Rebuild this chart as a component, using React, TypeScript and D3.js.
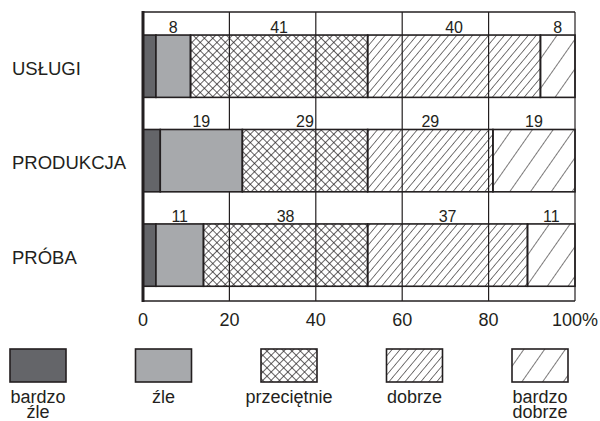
import React from 'react';
import * as d3 from 'd3';

const categories = ['USŁUGI', 'PRODUKCJA', 'PRÓBA'];
const levels = ['bardzo źle', 'źle', 'przeciętnie', 'dobrze', 'bardzo dobrze'];
const bardzoZle = [3, 4, 3];
const zle = [8, 19, 11];
const przecietnie = [41, 29, 38];
const dobrze = [40, 29, 37];
const bardzoDobrze = [8, 19, 11];
const xTicks = [0, 20, 40, 60, 80, 100];
const xTickLabels = ['0', '20', '40', '60', '80', '100%'];
const legendLines = [['bardzo', 'źle'], ['źle'], ['przeciętnie'], ['dobrze'], ['bardzo', 'dobrze']];

const W = 600;
const H = 421;
const FONT = '"Liberation Sans", Arial, Helvetica, sans-serif';
const INK = '#231f20';

const fills = ['#646569', '#a7a9ac', 'url(#cross)', 'url(#hatch)', 'url(#hatchWide)'];

const App: React.FC = () => {
  const rows = categories.map((c, i) => ({
    cat: c,
    [levels[0]]: bardzoZle[i],
    [levels[1]]: zle[i],
    [levels[2]]: przecietnie[i],
    [levels[3]]: dobrze[i],
    [levels[4]]: bardzoDobrze[i],
  }));
  const series = d3.stack<any>().keys(levels)(rows);

  const x = d3.scaleLinear().domain([0, 100]).range([143, 575]);
  const y = d3.scaleBand<string>()
    .domain(categories)
    .range([12, 301])
    .paddingInner(0.34)
    .paddingOuter(0.2)
    .align(0.61);
  const legendX = d3.scalePoint<string>().domain(levels).range([38, 540]);

  return (
    <svg width={W} height={H} style={{ position: 'absolute', left: 0, top: 0, background: '#fff' }}>
      <defs>
        <pattern id="cross" patternUnits="userSpaceOnUse" width={5.9} height={5.9} patternTransform="rotate(45)">
          <line x1={0} y1={0} x2={0} y2={5.9} stroke={INK} strokeWidth={1.4} />
          <line x1={0} y1={0} x2={5.9} y2={0} stroke={INK} strokeWidth={1.4} />
        </pattern>
        <pattern id="hatch" patternUnits="userSpaceOnUse" width={6.1} height={10} patternTransform="rotate(40)">
          <line x1={0} y1={0} x2={0} y2={10} stroke={INK} strokeWidth={1.2} />
        </pattern>
        <pattern id="hatchWide" patternUnits="userSpaceOnUse" width={17} height={10} patternTransform="rotate(35)">
          <line x1={0} y1={0} x2={0} y2={10} stroke={INK} strokeWidth={1.2} />
        </pattern>
      </defs>

      {/* frame and grid */}
      <line x1={x(0)} x2={x(100)} y1={12} y2={12} stroke={INK} strokeWidth={1.5} />
      <line x1={x(0)} x2={x(100)} y1={301} y2={301} stroke={INK} strokeWidth={1.5} />
      {xTicks.slice(1).map(t => (
        <line key={t} x1={x(t)} x2={x(t)} y1={12} y2={301} stroke={INK} strokeWidth={1.2} />
      ))}

      {/* value labels */}
      {series.slice(1).map(s =>
        s.map((d, i) => (
          <text key={s.key + i} x={x((d[0] + d[1]) / 2)} y={y(categories[i])! - 2}
            textAnchor="middle" fontFamily={FONT} fontSize={16} fill={INK}>
            {d[1] - d[0]}
          </text>
        ))
      )}

      {/* bars */}
      {series.map((s, k) =>
        s.map((d, i) => (
          <rect key={s.key + i} x={x(d[0])} y={y(categories[i])} width={x(d[1]) - x(d[0])}
            height={y.bandwidth()} fill={fills[k]} stroke={INK} strokeWidth={1.6} />
        ))
      )}

      <line x1={x(0)} x2={x(0)} y1={11} y2={302} stroke={INK} strokeWidth={3} />

      {/* category labels */}
      {categories.map(c => (
        <text key={c} x={12} y={y(c)! + y.bandwidth() / 2 + 8.5} fontFamily={FONT} fontSize={18.5} fill={INK}>
          {c}
        </text>
      ))}

      {/* x tick labels */}
      {xTicks.map((t, i) => (
        <text key={t} x={x(t)} y={326} textAnchor="middle"
          fontFamily={FONT} fontSize={18} fill={INK}>
          {xTickLabels[i]}
        </text>
      ))}

      {/* legend */}
      {levels.map((l, k) => {
        const cx = legendX(l)!;
        return (
          <g key={l}>
            <rect x={cx - 28} y={349} width={56} height={33} fill={fills[k]} stroke={INK} strokeWidth={1.6} />
            {legendLines[k].map((ln, j) => (
              <text key={j} x={cx} y={403 + j * 15} textAnchor="middle" fontFamily={FONT} fontSize={18} fill={INK}>
                {ln}
              </text>
            ))}
          </g>
        );
      })}
    </svg>
  );
};

export default App;
